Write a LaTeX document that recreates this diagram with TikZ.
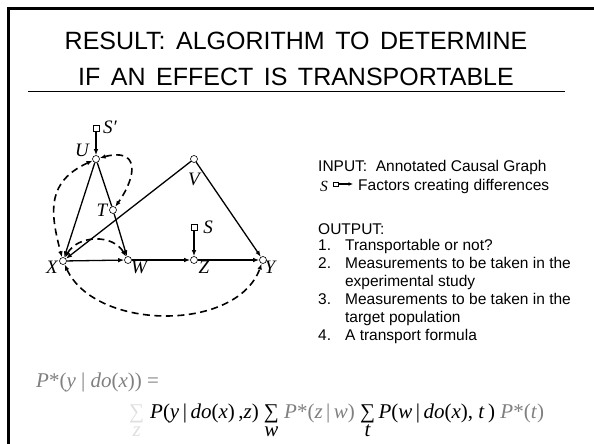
\documentclass[tikz,border=0pt]{standalone}
\usepackage{fontspec}
\setmainfont{Liberation Sans}
\newfontfamily\tms{Liberation Serif}
\usepackage{tikz}
\usetikzlibrary{positioning,arrows.meta}

\newcommand{\vi}[1]{\textit{#1}}
\newcommand{\sumover}[1]{\begin{tabular}[t]{@{}c@{}}∑\\[-6pt]\vi{#1}\end{tabular}}

\begin{document}
\begin{tikzpicture}[x=1pt, y=-1pt, >={Latex[length=6pt,width=4.5pt]},
  var/.style={circle, draw, fill=white, inner sep=0pt, minimum size=7pt, line width=0.6pt},
  sel/.style={rectangle, draw, fill=white, inner sep=0pt, minimum size=6pt, line width=0.6pt},
  lbl/.style={inner sep=0pt, font=\tms\itshape\fontsize{19}{19}\selectfont},
  edge/.style={->, line width=1.3pt},
  bi/.style={<->, line width=1.6pt, dash pattern=on 7pt off 4.5pt},
  titletxt/.style={font=\fontsize{25}{30}\selectfont},
  txt/.style={anchor=west, inner sep=0pt, font=\fontsize{15.5}{18}\selectfont},
  formula/.style={anchor=base west, inner sep=0pt, font=\tms\fontsize{21}{24}\selectfont}]
\useasboundingbox (0,0) rectangle (594,444);
% slide frame and title
\draw[line width=2.5pt] (8.5,444) -- (8.5,8.5) -- (594,8.5);
\node[titletxt] (title1) at (296,41) {RESULT:\hspace{0.42em}ALGORITHM\hspace{0.42em}TO\hspace{0.42em}DETERMINE};
\node[titletxt] (title2) at (296,77) {IF\hspace{0.42em}AN\hspace{0.42em}EFFECT\hspace{0.42em}IS\hspace{0.42em}TRANSPORTABLE};
\draw[line width=0.8pt] (28,91) -- (565,91);

% causal graph
\node[var] (U) at (96,159) {};
\node[var] (T) at (113,210) {};
\node[var] (V) at (194,159) {};
\node[var] (X) at (63,261) {};
\node[var] (W) at (128,260) {};
\node[var] (Z) at (194,260) {};
\node[var] (Y) at (263,260) {};
\node[sel] (Sp) at (96,128) {};
\node[sel] (Sz) at (194,227) {};

\node[lbl] at (82,150) {U};
\node[lbl] at (102,210) {T};
\node[lbl] at (194,179) {V};
\node[lbl] at (52,267) {X};
\node[lbl] at (139,267) {W};
\node[lbl] at (204,267) {Z};
\node[lbl] at (270,267) {Y};
\node[lbl] at (208,227) {S};
\node[lbl] at (110,127) {S′};

\draw[edge] (Sp) -- (U);
\draw[edge] (Sz) -- (Z);
\draw[edge] (U) -- (X);
\draw[line width=1.3pt] (U) -- (T);
\draw[edge] (T) -- (W);
\draw[edge] (V) -- (X);
\draw[edge] (V) -- (Y);
\draw[edge] (X) -- (W);
\draw[edge] (W) -- (Z);
\draw[edge] (Z) -- (Y);

\draw[bi] (U) to[out=205, in=105, looseness=1.25] (X);
\draw[bi] (U) to[out=15, in=55, looseness=2] (T);
\draw[bi] (X) to[out=60, in=120, looseness=1.1] (W);
\draw[bi] (X) to[out=-65, in=-110, looseness=0.95] (Y);

% input / output text
\node[txt] (inp) at (318,167) {INPUT:\ \ Annotated Causal Graph};
\node[txt] (lgS) at (320,186) {\tms\itshape S};
\node[draw, inner sep=0pt, minimum width=5pt, minimum height=4.5pt, line width=0.5pt] (lgsq) at (336,184) {};
\coordinate (lgtip) at (353,184);
\draw[->, line width=1.1pt, >={Latex[length=4.5pt,width=4pt]}] (lgsq) -- (lgtip);
\node[txt] (lgtxt) at (358,186) {Factors creating differences};
\node[txt] (outp) at (318,229) {OUTPUT:};
\node[txt, anchor=north west] (list) at (318,238) {%
  \begin{tabular}{@{}l@{\hspace{14pt}}l@{}}
  1. & Transportable or not?\\
  2. & Measurements to be taken in the\\
     & experimental study\\
  3. & Measurements to be taken in the\\
     & target population\\
  4. & A transport formula
  \end{tabular}};

% transport formula
\node[formula, text=gray] (lhs) at (36,387) {\vi{P}*(\vi{y} | \vi{do}(\vi{x})) =};
\node[formula] (rhs) at (129,418)
  {{\color{gray!25}\sumover{z}}\hspace{6pt}\vi{P}(\vi{y}\,|\,\vi{do}(\vi{x})\,,\vi{z}) \sumover{w} {\color{gray}\vi{P}*(\vi{z}\,|\,\vi{w})} \sumover{t}\,\vi{P}(\vi{w}\,|\,\vi{do}(\vi{x}), \vi{t}\,) {\color{gray}\vi{P}*(\vi{t})}};
\end{tikzpicture}
\end{document}
